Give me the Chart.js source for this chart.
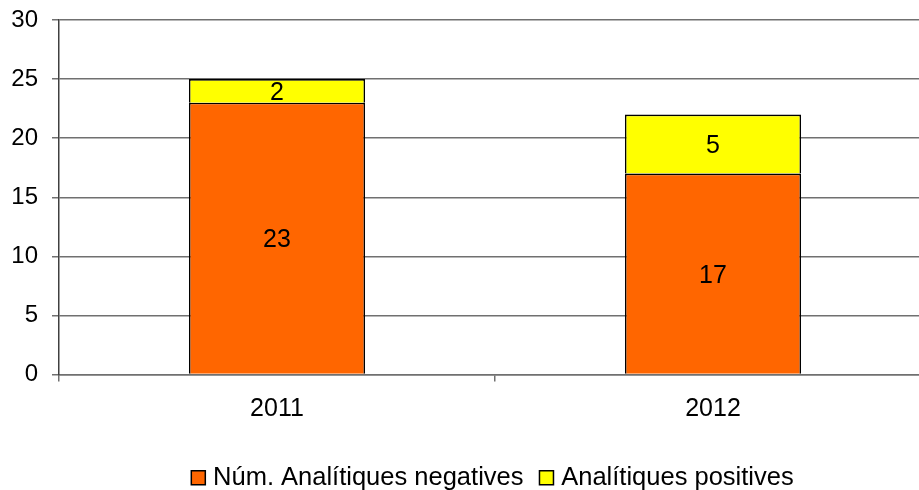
<!DOCTYPE html>
<html>
<head>
<meta charset="utf-8">
<script src="https://cdn.jsdelivr.net/npm/chart.js@4/dist/chart.umd.min.js"></script>
<style>
  html, body { margin: 0; padding: 0; background: #fff; overflow: hidden; }
  #wrap { width: 919px; height: 490px; overflow: hidden; position: relative; }
  canvas { display: block; }
</style>
</head>
<body>
<div id="wrap"><canvas id="c" width="990" height="490"></canvas></div>
<script>
const categories = ['2011', '2012'];
const negatives = [23, 17];
const positives = [2, 5];
const seriesNames = ['Núm. Analítiques negatives', 'Analítiques positives'];
const yTicks = [0, 5, 10, 15, 20, 25, 30];

const FONT = '"Liberation Sans", Arial, sans-serif';

const barLabels = {
  id: 'barLabels',
  beforeDraw(chart) {
    // centre the legend under the plot area and place it near the bottom
    const lg = chart.legend;
    if (lg) {
      lg.left = chart.chartArea.left;
      lg.right = chart.chartArea.right;
      lg.width = lg.right - lg.left;
      lg.top = 444;
      lg.bottom = 490;
      lg.height = 46;
    }
  },
  afterDatasetsDraw(chart) {
    const ctx = chart.ctx;
    ctx.save();
    ctx.font = '25px ' + FONT;
    ctx.fillStyle = '#000';
    ctx.textAlign = 'center';
    ctx.textBaseline = 'middle';
    chart.data.datasets.forEach((ds, i) => {
      const meta = chart.getDatasetMeta(i);
      meta.data.forEach((bar, j) => {
        const v = ds.data[j];
        const p = bar.getProps(['x', 'y', 'base'], true);
        ctx.fillText(String(v), p.x, (p.y + p.base) / 2 + 2);
      });
    });
    ctx.restore();
  }
};

new Chart(document.getElementById('c'), {
  type: 'bar',
  data: {
    labels: categories,
    datasets: [
      { label: seriesNames[0], data: negatives, backgroundColor: '#FF6600', borderColor: '#000', borderWidth: 1.6, categoryPercentage: 0.404, barPercentage: 1 },
      { label: seriesNames[1], data: positives, backgroundColor: '#FFFF00', borderColor: '#000', borderWidth: 1.6, categoryPercentage: 0.404, barPercentage: 1 }
    ]
  },
  options: {
    responsive: false,
    animation: false,
    layout: { padding: { left: 11, right: 59, top: 0, bottom: 0 } },
    plugins: {
      tooltip: { enabled: false },
      legend: {
        position: 'bottom',
        labels: {
          font: { family: FONT, size: 25.5 },
          color: '#000',
          usePointStyle: true,
          boxWidth: 4,
          boxHeight: 14,
          padding: 21,
          generateLabels(chart) {
            return chart.data.datasets.map((ds, i) => ({
              text: ds.label,
              fillStyle: ds.backgroundColor,
              strokeStyle: '#000',
              lineWidth: 1.5,
              pointStyle: 'rect',
              hidden: false,
              datasetIndex: i,
              fontColor: '#000'
            }));
          }
        }
      }
    },
    scales: {
      x: {
        stacked: true,
        afterFit(scale) { scale.height = 59; },
        grid: { display: true, drawOnChartArea: false, drawTicks: true, tickLength: 7, color: '#707070', lineWidth: 1.5, offset: true },
        border: { display: true, color: '#707070', width: 1.5 },
        ticks: { font: { family: FONT, size: 25 }, color: '#000', padding: 13 }
      },
      y: {
        stacked: true,
        min: 0,
        max: 30,
        afterFit(scale) { scale.width = 48; scale.paddingTop = 20; scale.paddingBottom = 0; },
        afterBuildTicks(scale) { scale.ticks = yTicks.map(v => ({ value: v })); },
        grid: { color: '#707070', lineWidth: 1.5, tickLength: 7, drawTicks: true },
        border: { display: true, color: '#404040', width: 1.5 },
        ticks: { font: { family: FONT, size: 24 }, color: '#000', padding: 14 }
      }
    }
  },
  plugins: [barLabels]
});
</script>
</body>
</html>
